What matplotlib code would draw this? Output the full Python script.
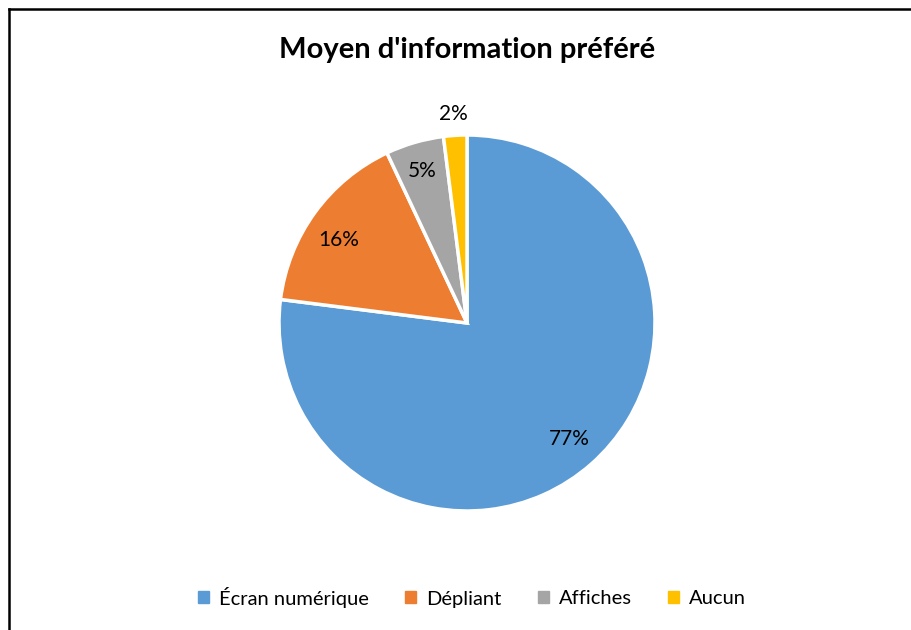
import matplotlib
matplotlib.use("Agg")
import matplotlib.pyplot as plt
from matplotlib.lines import Line2D

categories = ["Écran numérique", "Dépliant", "Affiches", "Aucun"]
values = [77, 16, 5, 2]
colors = ["#5B9BD5", "#ED7D31", "#A5A5A5", "#FFC000"]
title = "Moyen d'information préféré"

plt.rcParams['font.family'] = ['Lato', 'DejaVu Sans']

fig = plt.figure(figsize=(9.12, 6.3), dpi=100)
W, H = 912, 630

# chart frame (only left and top edges visible)
fig.add_artist(Line2D([9 / W, 9 / W], [0, 1 - 9 / H], color="black", lw=1.8))
fig.add_artist(Line2D([9 / W, 1], [1 - 9 / H, 1 - 9 / H], color="black", lw=1.8))

# pie: center (467, 323), radius ~188 px
r = 188
ax = fig.add_axes([(467 - r) / W, 1 - (323 + r) / H, 2 * r / W, 2 * r / H])
wedges, texts, autotexts = ax.pie(values, colors=colors, startangle=90, counterclock=False,
                                  autopct="%d%%", pctdistance=0.82,
                                  wedgeprops=dict(edgecolor="white", linewidth=2.5),
                                  textprops=dict(fontsize=15, color="black"))
ax.set_aspect("equal")
ax.set_xlim(-1, 1)
ax.set_ylim(-1, 1)

# label tweaks, the small slice label sits outside
autotexts[1].set_position((-0.68, 0.44))
autotexts[2].set_position((-0.24, 0.81))
autotexts[3].set_position((-0.07, 1.11))

fig.text(467 / W, 1 - 50 / H, title, ha="center", va="center", fontsize=21, fontweight="bold")

handles = [plt.Rectangle((0, 0), 1, 1, color=c) for c in colors]
fig.legend(handles, categories, loc="center", bbox_to_anchor=(472 / W, 1 - 597 / H), ncol=4,
           frameon=False, fontsize=14.5, handlelength=0.55, handleheight=0.55,
           handletextpad=0.5, columnspacing=1.8)

fig.savefig("out.png", dpi=100, facecolor="white")
